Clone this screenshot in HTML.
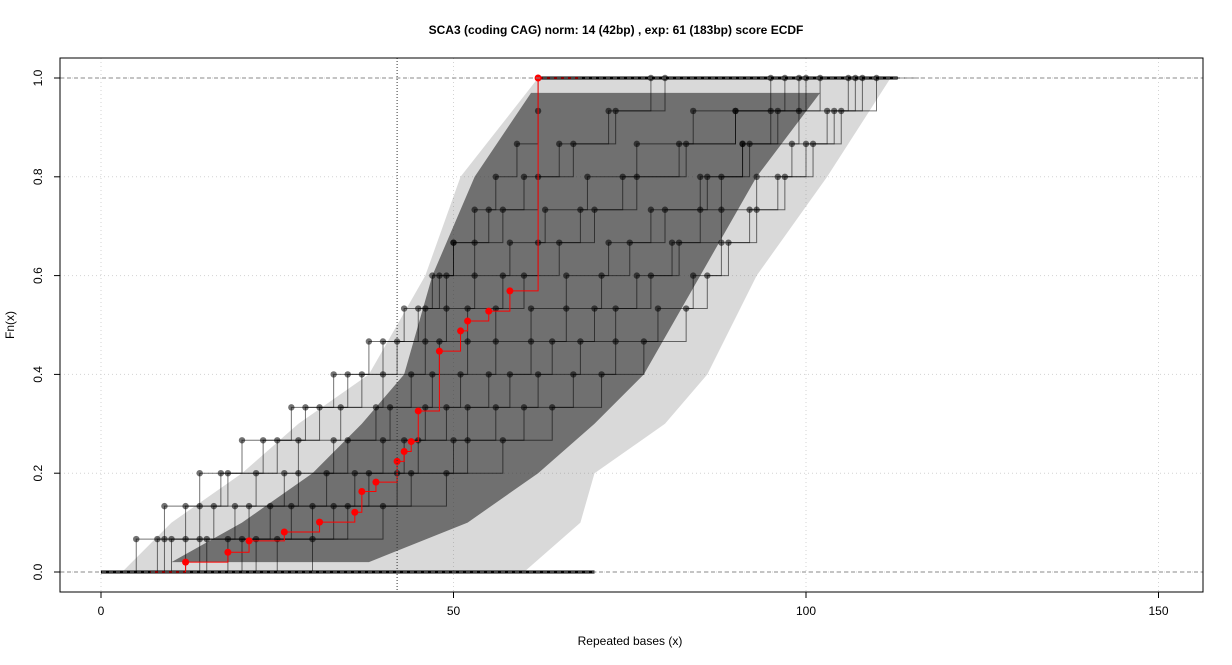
<!DOCTYPE html>
<html><head><meta charset="utf-8">
<style>
html,body{margin:0;padding:0;background:#fff;}
svg{display:block;font-family:"Liberation Sans",sans-serif;}
</style></head>
<body>
<svg id="chart" width="1232" height="665" viewBox="0 0 1232 665" xmlns="http://www.w3.org/2000/svg">
<text x="616" y="34" text-anchor="middle" font-size="12" font-weight="bold">SCA3 (coding CAG) norm: 14 (42bp) , exp: 61 (183bp) score ECDF</text>
<text x="630" y="645" text-anchor="middle" font-size="12">Repeated bases (x)</text>
<text x="14" y="325" text-anchor="middle" font-size="12" transform="rotate(-90 14 325)">Fn(x)</text>
<g id="grid"></g>
<g id="cloud"></g>
<g id="curves"></g>
<g id="red"></g>
<g id="axes"></g>
</svg>
<script>
const xTicks=[0,50,100,150];
const yTicks=[0,0.2,0.4,0.6,0.8,1.0];
const yTickLabels=["0.0","0.2","0.4","0.6","0.8","1.0"];
const normLine=42;
const redX=[12,18,21,26,31,36,37,39,42,43,44,45,48,51,52,55,58,62];
const redY=[0.02,0.04,0.063,0.081,0.101,0.121,0.163,0.182,0.224,0.244,0.264,0.326,0.447,0.488,0.508,0.528,0.569,1.0];
const outerY=[0,0.1,0.2,0.3,0.4,0.6,0.8,1.0];
const outerLeft=[3,10,20,28,38,46,51,62];
const outerRight=[60,68,70,80,86,93,103,112];
const innerY=[0.02,0.1,0.2,0.3,0.4,0.6,0.8,0.97];
const innerLeft=[10,20,30,37,43,47,53,61];
const innerRight=[38,52,62,70,77,85,93,102];
const sampleCurves=[
 [5,9,14,20,27,33,38,43,47,50,55,60,65,72,78],
 [10,16,22,28,34,40,46,49,53,58,63,69,76,84,95],
 [12,19,26,33,39,44,48,52,57,62,68,74,82,90,100],
 [15,24,32,40,46,51,56,61,66,72,78,85,92,99,106],
 [20,30,38,45,52,58,64,70,76,82,88,93,98,103,110],
 [9,14,18,25,31,37,42,46,48,50,53,56,59,62,62],
 [25,35,44,52,60,67,73,79,84,88,92,96,100,105,108],
 [14,21,28,35,41,47,52,56,60,65,70,76,83,90,97],
 [30,40,49,57,64,71,77,83,86,89,93,97,101,104,107],
 [8,12,17,23,29,35,40,45,49,53,57,62,67,73,80],
 [18,27,36,43,49,55,61,66,71,75,80,86,91,96,102],
 [22,33,42,50,56,62,68,73,78,81,85,88,91,95,99]
];
const X0=60,X1=1203,Y0=58,Y1=592;
const sx=v=>101+(v-0)*(806-101)/100;
const sy=v=>572-v*(572-78);
const NS="http://www.w3.org/2000/svg";
function mk(tag,attrs,parent){const e=document.createElementNS(NS,tag);for(const k in attrs)e.setAttribute(k,attrs[k]);parent.appendChild(e);return e;}
const grid=document.getElementById('grid');
xTicks.forEach(t=>{const l=mk('line',{x1:sx(t),x2:sx(t),y1:Y0,y2:Y1,stroke:'#d3d3d3','stroke-dasharray':'1,3'},grid);

});
yTicks.forEach(t=>{const l=mk('line',{x1:X0,x2:X1,y1:sy(t),y2:sy(t),stroke:'#d3d3d3','stroke-dasharray':'1,3'},grid);

});
const cloud=document.getElementById('cloud');
function band(L,R,Y,fill,op,name){let p=L.map((v,i)=>sx(v)+','+sy(Y[i]));for(let i=R.length-1;i>=0;i--)p.push(sx(R[i])+','+sy(Y[i]));
const e=mk('polygon',{points:p.join(' '),fill:fill,'fill-opacity':op},cloud);

}
band(outerLeft,outerRight,outerY,'#777',0.28,'cloud-outer-band');
band(innerLeft,innerRight,innerY,'#2a2a2a',0.6,'cloud-inner-band');
const bl=mk('line',{x1:sx(0),x2:sx(70),y1:sy(0),y2:sy(0),stroke:'#000','stroke-width':3},cloud);


const tl=mk('line',{x1:sx(62),x2:sx(113),y1:sy(1),y2:sy(1),stroke:'#000','stroke-width':3},cloud);


const curves=document.getElementById('curves');
function ecdf(xs,ys,color,op,r,g,name,tail){let d='M'+sx(xs[0]-5)+','+sy(0)+' H'+sx(xs[0]);
xs.forEach((x,i)=>{d+=' V'+sy(ys[i]);if(i<xs.length-1)d+=' H'+sx(xs[i+1]);});
d+=' H'+sx(xs[xs.length-1]+tail);
const p=mk('path',{d:d,fill:'none',stroke:color,'stroke-opacity':op,'stroke-width':1},g);


xs.forEach((x,i)=>{const c=mk('circle',{cx:sx(x),cy:sy(ys[i]),r:r,fill:color,'fill-opacity':op},g);

});}
sampleCurves.forEach((xs,k)=>{const ys=xs.map((_,i)=>(i+1)/xs.length);ecdf(xs,ys,'#000',0.55,3.2,curves,'sample-curve',6);});
const axes=document.getElementById('axes');
mk('line',{x1:X0,x2:X1,y1:sy(0),y2:sy(0),stroke:'#888','stroke-dasharray':'4,3'},axes);
mk('line',{x1:X0,x2:X1,y1:sy(1),y2:sy(1),stroke:'#888','stroke-dasharray':'4,3'},axes);
const nl=mk('line',{x1:sx(normLine),x2:sx(normLine),y1:Y0,y2:Y1,stroke:'#333','stroke-dasharray':'1,2'},axes);


const red=document.getElementById('red');
ecdf(redX,redY,'#ff0000',1,3.5,red,'red-curve',6);
const fr=mk('rect',{x:X0,y:Y0,width:X1-X0,height:Y1-Y0,fill:'none',stroke:'#000'},axes);


xTicks.forEach(t=>{mk('line',{x1:sx(t),x2:sx(t),y1:Y1,y2:Y1+6,stroke:'#000'},axes);
const tx=mk('text',{x:sx(t),y:Y1+23,'text-anchor':'middle','font-size':12},axes);tx.textContent=t;

});
yTicks.forEach((t,i)=>{mk('line',{x1:X0-6,x2:X0,y1:sy(t),y2:sy(t),stroke:'#000'},axes);
const y=sy(t),x=X0-18;
const tx=mk('text',{x:x,y:y,'text-anchor':'middle','font-size':12,transform:`rotate(-90 ${x} ${y})`},axes);tx.textContent=yTickLabels[i];

});
</script>
</body></html>
